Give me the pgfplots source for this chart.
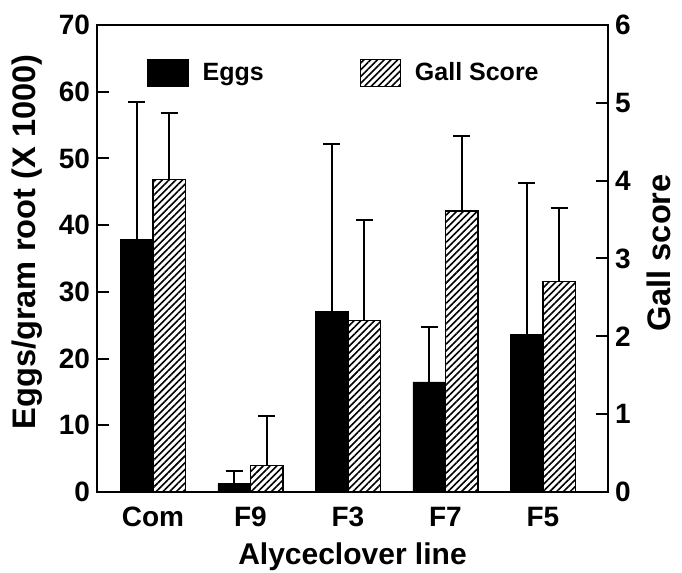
\documentclass[border=0pt]{standalone}
\usepackage{fontspec}
\setmainfont{Liberation Sans}
\usepackage{pgfplots}
\pgfplotsset{compat=1.18}
\usetikzlibrary{patterns.meta}

\begin{document}
\begin{tikzpicture}[font=\bfseries]
\pgfplotsset{
  common/.style={
    scale only axis, width=255.5pt, height=233.5pt,
    at={(0,0)}, anchor=south west,
    xmin=-0.574, xmax=4.667, ymin=0,
    axis line style={line width=1pt},
    /pgf/number format/assume math mode=true,
    tick label style={font=\fontsize{14}{16}\selectfont\bfseries},
    label style={font=\fontsize{16.3}{18}\selectfont\bfseries},
    tick style={line width=1pt, black},
    tick align=inside,
    major tick length=6pt,
    ybar, bar width=0.333,
    error bars/y dir=plus, error bars/y explicit,
    error bars/error mark=|,
    error bars/error bar style={line width=1pt, black},
    error bars/error mark options={line width=1pt, mark size=4.25pt, black},
  },
  legbox/.style={legend image code/.code={\draw[##1, line width=0.6pt] (0pt,-6.75pt) rectangle (20pt,6.75pt);}},
}
\begin{axis}[common,
  ymax=70, ytick={0,10,...,70}, ytick pos=left,
  xtick={0,1,2,3,4}, xticklabels={Com,F9,F3,F7,F5},
  xtick style={draw=none},
  xticklabel style={yshift=2pt},
  xlabel={Alyceclover line},
  xlabel style={at={(axis description cs:0.5,0)}, anchor=center, yshift=-32.5pt,
    font=\fontsize{15}{17}\selectfont\bfseries},
  ylabel={Eggs/gram root (X 1000)},
  ylabel style={at={(axis description cs:0,0.5)}, anchor=center, yshift=35pt, xshift=8.25pt},
  legend columns=2,
  legend style={at={(0.098,0.929)}, anchor=north west, draw=none, fill=none,
    inner sep=0pt, font=\fontsize{12.5}{14}\selectfont\bfseries,
    /tikz/every odd column/.append style={column sep=5pt},
    /tikz/every even column/.append style={column sep=46pt}},
]
\addplot[fill=black, draw=black, bar shift=-0.1667, legbox] coordinates {
  (0,37.8) +- (0,20.7)
  (1,1.25) +- (0,1.85)
  (2,27.1) +- (0,25.1)
  (3,16.5) +- (0,8.3)
  (4,23.6) +- (0,22.7)
};
\addlegendentry{Eggs}
\addlegendimage{draw=black, pattern={Lines[angle=45,distance=2.4pt,line width=0.8pt]}, legbox}
\addlegendentry{Gall Score}
\end{axis}
\begin{axis}[common,
  ymax=6, ytick={0,1,...,6},
  axis y line*=right, axis x line=none,
  ylabel={Gall score},
  ylabel style={at={(axis description cs:1,0.5)}, anchor=center, yshift=-25.5pt, xshift=2.75pt},
]
\addplot[draw=black, line width=0.6pt, pattern={Lines[angle=45,distance=2.4pt,line width=0.8pt]}, bar shift=0.1667] coordinates {
  (0,4.01) +- (0,0.86)
  (1,0.34) +- (0,0.63)
  (2,2.20) +- (0,1.30)
  (3,3.61) +- (0,0.97)
  (4,2.70) +- (0,0.95)
};
\end{axis}
\pgfresetboundingbox
\useasboundingbox (-48.5pt,-40.5pt) rectangle (292.5pt,246pt);
\end{tikzpicture}
\end{document}
